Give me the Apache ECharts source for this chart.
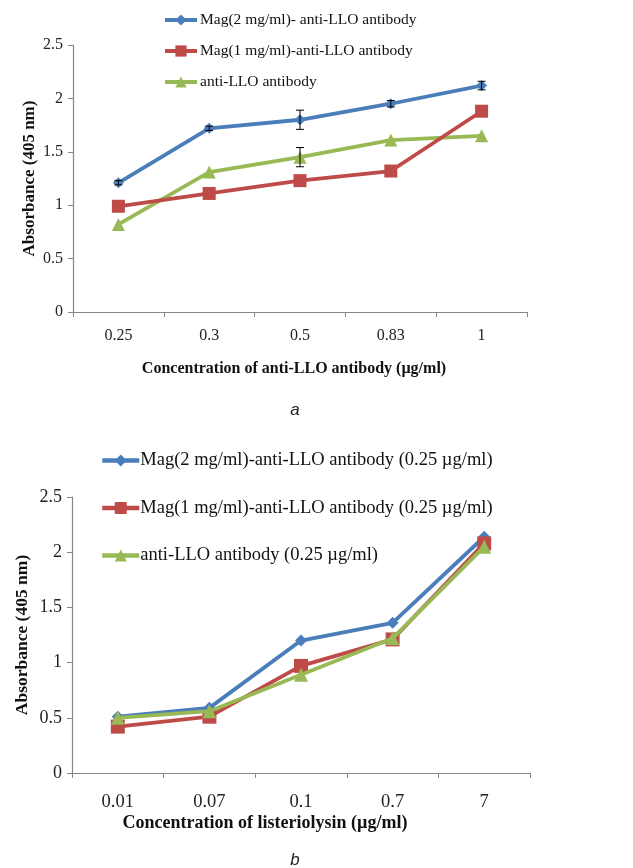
<!DOCTYPE html>
<html>
<head>
<meta charset="utf-8">
<script src="https://cdn.jsdelivr.net/npm/echarts@6/dist/echarts.min.js"></script>
<style>
  html, body { margin: 0; padding: 0; background: #fff; }
  #chart { width: 633px; height: 868px; }
</style>
</head>
<body>
<div id="chart"></div>
<script>
// Panel a: absorbance vs. antibody concentration
const catsA = ['0.25', '0.3', '0.5', '0.83', '1'];
const mag2A = [1.21, 1.72, 1.80, 1.95, 2.12];
const mag1A = [0.99, 1.11, 1.23, 1.32, 1.88];
const freeA = [0.82, 1.31, 1.45, 1.61, 1.65];
// error bars: [category index, mean, half-width]
const errMag2A = [[0, 1.21, 0.02], [1, 1.72, 0.02], [2, 1.80, 0.09], [3, 1.95, 0.03], [4, 2.12, 0.04]];
const errFreeA = [[2, 1.45, 0.09]];

// Panel b: absorbance vs. listeriolysin concentration
const catsB = ['0.01', '0.07', '0.1', '0.7', '7'];
const mag2B = [0.51, 0.59, 1.20, 1.36, 2.14];
const mag1B = [0.42, 0.51, 0.97, 1.21, 2.08];
const freeB = [0.50, 0.56, 0.89, 1.22, 2.05];

const namesA = ['Mag(2 mg/ml)- anti-LLO antibody', 'Mag(1 mg/ml)-anti-LLO antibody', 'anti-LLO antibody'];
const namesB = ['Mag(2 mg/ml)-anti-LLO antibody (0.25 \u00b5g/ml)', 'Mag(1 mg/ml)-anti-LLO antibody (0.25 \u00b5g/ml)', 'anti-LLO antibody (0.25 \u00b5g/ml)'];

const BLUE = '#4a7ebb', RED = '#be4b48', GREEN = '#98b954';
const SERIF = '"Liberation Serif", "Times New Roman", serif';
const AXIS = '#868686';

const chart = echarts.init(document.getElementById('chart'), null, { renderer: 'canvas' });

function lineSeries(name, data, color, symbol, size, x, y, z) {
  return {
    name, type: 'line', data, xAxisIndex: x, yAxisIndex: y, z: z,
    symbol, symbolSize: size, showSymbol: true,
    lineStyle: { color, width: 3.8 },
    itemStyle: { color, borderWidth: 0 },
    emphasis: { disabled: true },
    animation: false
  };
}

function errorSeries(data) {
  return {
    type: 'custom', xAxisIndex: 0, yAxisIndex: 0, z: 10, animation: false,
    data,
    renderItem(params, api) {
      const i = api.value(0), m = api.value(1), e = api.value(2);
      const top = api.coord([i, m + e]);
      const bot = api.coord([i, m - e]);
      const w = 4;
      const s = { stroke: '#000', lineWidth: 1 };
      return {
        type: 'group',
        children: [
          { type: 'line', shape: { x1: top[0], y1: top[1], x2: bot[0], y2: bot[1] }, style: s },
          { type: 'line', shape: { x1: top[0] - w, y1: top[1], x2: top[0] + w, y2: top[1] }, style: s },
          { type: 'line', shape: { x1: bot[0] - w, y1: bot[1], x2: bot[0] + w, y2: bot[1] }, style: s }
        ]
      };
    }
  };
}

function catAxis(grid, cats, fontSize, margin, name, nameGap, nameSize, shiftLeft) {
  return {
    type: 'category', gridIndex: grid, data: cats, boundaryGap: true,
    axisLine: { lineStyle: { color: AXIS, width: 1.2 } },
    axisTick: { show: true, alignWithLabel: false, length: 5, lineStyle: { color: AXIS } },
    axisLabel: { color: '#222', fontFamily: SERIF, fontSize, margin },
    name, nameLocation: 'middle', nameGap,
    nameTextStyle: { color: '#111', fontFamily: SERIF, fontWeight: 'bold', fontSize: nameSize,
      padding: [0, shiftLeft * 2, 0, 0] }
  };
}

function valAxis(grid, fontSize, nameGap, nameSize) {
  return {
    type: 'value', gridIndex: grid, min: 0, max: 2.5, interval: 0.5,
    axisLine: { show: true, lineStyle: { color: AXIS, width: 1.2 } },
    axisTick: { show: true, length: 5, lineStyle: { color: AXIS } },
    splitLine: { show: false },
    axisLabel: { color: '#222', fontFamily: SERIF, fontSize, margin: 10 },
    name: 'Absorbance (405 nm)', nameLocation: 'middle', nameGap, nameRotate: 90,
    nameMoveOverlap: false,
    nameTextStyle: { color: '#111', fontFamily: SERIF, fontWeight: 'bold', fontSize: nameSize }
  };
}

const option = {
  backgroundColor: '#fff',
  animation: false,
  grid: [
    { left: 73, width: 454, top: 45, height: 267 },
    { left: 72, width: 458, top: 497, height: 276 }
  ],
  xAxis: [
    catAxis(0, catsA, 16, 16, 'Concentration of anti-LLO antibody (\u00b5g/ml)', 49, 16, 6),
    catAxis(1, catsB, 18.5, 20, 'Concentration of listeriolysin (\u00b5g/ml)', 41, 18, 36)
  ],
  yAxis: [
    valAxis(0, 16, 35, 17),
    valAxis(1, 18, 41, 17.5)
  ],
  legend: [
    {
      orient: 'vertical', left: 158, top: 7, itemGap: 15,
      itemWidth: 32, itemHeight: 14,
      lineStyle: { width: 4 },
      textStyle: { fontFamily: SERIF, fontSize: 15.5, color: '#111', padding: [0, 0, 0, -2] },
      data: namesA
    },
    {
      orient: 'vertical', left: 95, top: 446, itemGap: 28.5,
      itemWidth: 37, itemHeight: 15,
      lineStyle: { width: 4.5 },
      textStyle: { fontFamily: SERIF, fontSize: 18.5, color: '#111', padding: [0, 0, 0, -4] },
      data: namesB
    }
  ],
  title: [
    { text: 'a', left: 290, top: 397, textAlign: 'center',
      textStyle: { fontFamily: '"Liberation Sans", Arial, sans-serif', fontStyle: 'italic', fontWeight: 'normal', fontSize: 17, color: '#222' } },
    { text: 'b', left: 290, top: 847, textAlign: 'center',
      textStyle: { fontFamily: '"Liberation Sans", Arial, sans-serif', fontStyle: 'italic', fontWeight: 'normal', fontSize: 17, color: '#222' } }
  ],
  series: [
    lineSeries(namesA[0], mag2A, BLUE, 'diamond', 11, 0, 0, 4),
    lineSeries(namesA[1], mag1A, RED, 'rect', 13, 0, 0, 3),
    lineSeries(namesA[2], freeA, GREEN, 'triangle', 13, 0, 0, 2),
    errorSeries(errMag2A),
    errorSeries(errFreeA),
    lineSeries(namesB[0], mag2B, BLUE, 'diamond', 12, 1, 1, 2),
    lineSeries(namesB[1], mag1B, RED, 'rect', 14, 1, 1, 3),
    lineSeries(namesB[2], freeB, GREEN, 'triangle', 14, 1, 1, 4)
  ]
};

chart.setOption(option);
</script>
</body>
</html>
